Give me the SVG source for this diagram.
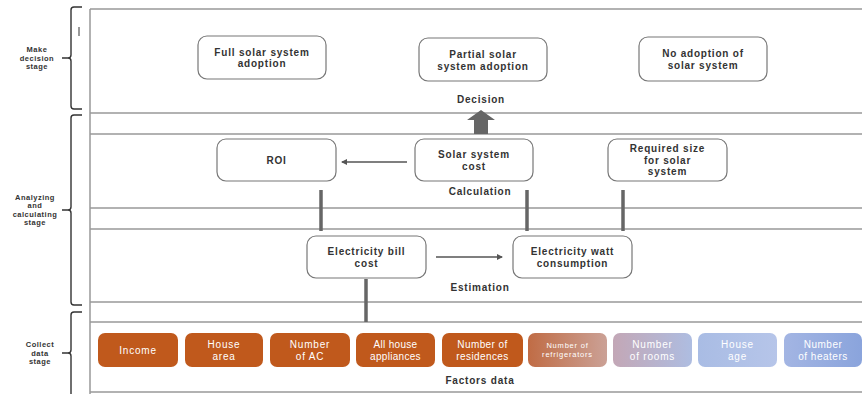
<svg xmlns="http://www.w3.org/2000/svg" width="862" height="394" viewBox="0 0 862 394">
<style>
text{font-family:"Liberation Sans",Arial,sans-serif;font-weight:bold;fill:#333;text-anchor:middle;dominant-baseline:central}
.node rect{fill:#fff;stroke:#777;stroke-width:1.2}
.lbl{font-size:10px;letter-spacing:0.8px}
.stage{font-size:7.5px;letter-spacing:0.5px;fill:#333}
.band{stroke:#999;stroke-width:1.5;fill:none}
.brace{stroke:#333;stroke-width:1.4;fill:none}
.f rect{stroke:none}
.f text{fill:#fff;font-size:10px;font-weight:normal;letter-spacing:0.8px}
.bar{stroke:#666;stroke-width:3.5}
.thin{stroke:#555;stroke-width:1.5}
</style>
<defs>
<marker id="ah" markerWidth="6" markerHeight="6" refX="5" refY="3" orient="auto" markerUnits="userSpaceOnUse"><path d="M0,0 L6,3 L0,6 Z" fill="#555"/></marker>
<linearGradient id="gRef" x1="0" x2="1"><stop offset="0" stop-color="#C06C45"/><stop offset="1" stop-color="#CBA196"/></linearGradient>
<linearGradient id="gRoom" x1="0" x2="1"><stop offset="0" stop-color="#C3A7B6"/><stop offset="1" stop-color="#AEBDE1"/></linearGradient>
<linearGradient id="gAge" x1="0" x2="1"><stop offset="0" stop-color="#A9BCE4"/><stop offset="1" stop-color="#B6C5E9"/></linearGradient>
<linearGradient id="gHeat" x1="0" x2="1"><stop offset="0" stop-color="#A3B5E3"/><stop offset="1" stop-color="#8AA4DC"/></linearGradient>
</defs>
<rect width="862" height="394" fill="#fff"/>

<g id="bands">
<line class="band" x1="90" y1="9" x2="90" y2="394"/>
<line class="band" x1="90" y1="9" x2="862" y2="9"/>
<line class="band" x1="90" y1="113" x2="862" y2="113"/>
<line class="band" x1="90" y1="134" x2="862" y2="134"/>
<line class="band" x1="90" y1="208" x2="862" y2="208"/>
<line class="band" x1="90" y1="229" x2="862" y2="229"/>
<line class="band" x1="90" y1="302" x2="862" y2="302"/>
<line class="band" x1="90" y1="322" x2="862" y2="322"/>
<line class="band" x1="90" y1="392" x2="862" y2="392" stroke="#ccc"/>
<line x1="79" y1="27" x2="79" y2="36" stroke="#555" stroke-width="1.2"/>
</g>

<g id="stages">
<path class="brace" d="M82,7 H74 Q71,7 71,10 V55 Q71,58 68,58 H62 M68,58 Q71,58 71,61 V106 Q71,109 74,109 H82"/>
<text class="stage" x="37" y="49.5">Make</text>
<text class="stage" x="37" y="58">decision</text>
<text class="stage" x="37" y="66.5">stage</text>
<path class="brace" d="M82,115 H74 Q71,115 71,118 V207 Q71,210 68,210 H62 M68,210 Q71,210 71,213 V302 Q71,305 74,305 H82"/>
<text class="stage" x="35" y="197">Analyzing</text>
<text class="stage" x="35" y="205.5">and</text>
<text class="stage" x="35" y="214">calculating</text>
<text class="stage" x="35" y="222.5">stage</text>
<path class="brace" d="M82,312 H74 Q71,312 71,315 V350 Q71,353 68,353 H62 M68,353 Q71,353 71,356 V394"/>
<text class="stage" x="40" y="344.5">Collect</text>
<text class="stage" x="40" y="353">data</text>
<text class="stage" x="40" y="361.5">stage</text>
</g>

<g id="sectionLabels">
<text class="lbl" x="481" y="99">Decision</text>
<text class="lbl" x="480" y="191">Calculation</text>
<text class="lbl" x="480" y="287">Estimation</text>
<text class="lbl" x="480" y="380">Factors data</text>
</g>

<g id="connectors">
<polygon points="474,134 474,120 467,120 481,110 495,120 488,120 488,134" fill="#666"/>
<line class="thin" x1="407" y1="162" x2="342" y2="162" marker-end="url(#ah)"/>
<line class="thin" x1="436" y1="257" x2="502" y2="257" marker-end="url(#ah)"/>
<line class="bar" x1="321" y1="231" x2="321" y2="190"/>
<line class="bar" x1="527" y1="231" x2="527" y2="190"/>
<line class="bar" x1="623" y1="231" x2="623" y2="190"/>
<line class="bar" x1="366" y1="322" x2="366" y2="279"/>
</g>

<g id="full" class="node"><rect x="198" y="36" width="128" height="43" rx="9"/><text class="lbl" x="262" y="52">Full solar system</text><text class="lbl" x="262" y="63.5">adoption</text></g>
<g id="partial" class="node"><rect x="419" y="38" width="128" height="43" rx="9"/><text class="lbl" x="483" y="54.5">Partial solar</text><text class="lbl" x="483" y="66">system adoption</text></g>
<g id="noadopt" class="node"><rect x="639" y="37" width="128" height="44" rx="9"/><text class="lbl" x="703" y="53.5">No adoption of</text><text class="lbl" x="703" y="65">solar system</text></g>

<g id="roi" class="node"><rect x="217" y="139" width="119" height="42" rx="9"/><text class="lbl" x="276.5" y="160">ROI</text></g>
<g id="cost" class="node"><rect x="415" y="139" width="118" height="42" rx="9"/><text class="lbl" x="474" y="154.5">Solar system</text><text class="lbl" x="474" y="166">cost</text></g>
<g id="size" class="node"><rect x="608" y="139" width="119" height="42" rx="9"/><text class="lbl" x="667.5" y="148.5">Required size</text><text class="lbl" x="667.5" y="160">for solar</text><text class="lbl" x="667.5" y="171.5">system</text></g>

<g id="bill" class="node"><rect x="307" y="236" width="119" height="42" rx="9"/><text class="lbl" x="366.5" y="251.5">Electricity bill</text><text class="lbl" x="366.5" y="263">cost</text></g>
<g id="watt" class="node"><rect x="513" y="236" width="119" height="42" rx="9"/><text class="lbl" x="572.5" y="251.5">Electricity watt</text><text class="lbl" x="572.5" y="263">consumption</text></g>

<g id="income" class="f"><rect x="98" y="333" width="80" height="34" rx="7" fill="#C0591C"/><text x="138" y="350">Income</text></g>
<g id="housearea" class="f"><rect x="185" y="333" width="78" height="34" rx="7" fill="#C0591C"/><text x="224" y="344.5">House</text><text x="224" y="356">area</text></g>
<g id="ac" class="f"><rect x="270" y="333" width="80" height="34" rx="7" fill="#C0591C"/><text x="310" y="344.5">Number</text><text x="310" y="356">of AC</text></g>
<g id="appliances" class="f"><rect x="356" y="333" width="79" height="34" rx="7" fill="#C0591C"/><text x="395.5" y="344.5" style="letter-spacing:0.3px">All house</text><text x="395.5" y="356" style="letter-spacing:0.3px">appliances</text></g>
<g id="residences" class="f"><rect x="442" y="333" width="81" height="34" rx="7" fill="#C0591C"/><text x="482.5" y="344.5" style="letter-spacing:0.4px">Number of</text><text x="482.5" y="356" style="letter-spacing:0.4px">residences</text></g>
<g id="fridges" class="f"><rect x="528" y="333" width="79" height="34" rx="7" fill="url(#gRef)"/><text x="567.5" y="345.5" style="font-size:7.5px;letter-spacing:0.8px">Number of</text><text x="567.5" y="354.5" style="font-size:7.5px;letter-spacing:0.8px">refrigerators</text></g>
<g id="rooms" class="f"><rect x="613" y="333" width="79" height="34" rx="7" fill="url(#gRoom)"/><text x="652.5" y="344.5">Number</text><text x="652.5" y="356">of rooms</text></g>
<g id="age" class="f"><rect x="698" y="333" width="79" height="34" rx="7" fill="url(#gAge)"/><text x="737.5" y="344.5">House</text><text x="737.5" y="356">age</text></g>
<g id="heaters" class="f"><rect x="784" y="333" width="78" height="34" rx="7" fill="url(#gHeat)"/><text x="823" y="344.5" style="letter-spacing:0.5px">Number</text><text x="823" y="356" style="letter-spacing:0.5px">of heaters</text></g>
</svg>
